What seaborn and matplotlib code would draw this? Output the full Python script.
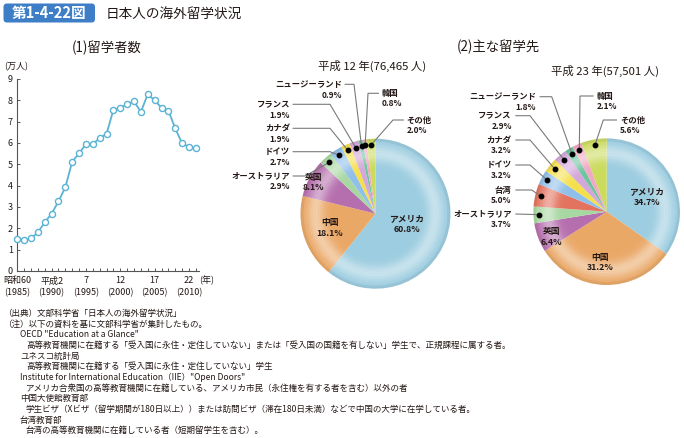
import numpy as np
import matplotlib
matplotlib.use('Agg')
import matplotlib.pyplot as plt
import seaborn as sns
import pandas as pd
from matplotlib.patches import FancyBboxPatch

sns.set_style('ticks')
plt.rcParams['font.family'] = ['Noto Sans CJK JP', 'DejaVu Sans']

# ---------------- data ----------------
years = [1985, 1986, 1987, 1988, 1989, 1990, 1991, 1992, 1993, 1994, 1995, 1996, 1997, 1998,
         1999, 2000, 2001, 2002, 2003, 2004, 2005, 2006, 2007, 2008, 2009, 2010, 2011]
students = [1.52, 1.43, 1.53, 1.81, 2.28, 2.69, 3.26, 3.93, 5.13, 5.51, 5.95, 5.95, 6.23, 6.43,
            7.56, 7.65, 7.82, 7.95, 7.46, 8.29, 8.00, 7.65, 7.52, 6.68, 5.99, 5.81, 5.75]
xtick_years = [1985, 1990, 1995, 2000, 2005, 2010]
xtick_era_labels = ['昭和60', '平成2', '7', '12', '17', '22']
xtick_ad_labels = ['(1985)', '(1990)', '(1995)', '(2000)', '(2005)', '(2010)']
yticks = [0, 1, 2, 3, 4, 5, 6, 7, 8, 9]

pie1_labels = ['アメリカ', '中国', '英国', 'オーストラリア', 'ドイツ', 'カナダ', 'フランス',
               'ニュージーランド', '韓国', 'その他']
pie1_values = [60.8, 18.1, 8.1, 2.9, 2.7, 1.9, 1.9, 0.9, 0.8, 2.0]
pie2_labels = ['アメリカ', '中国', '英国', 'オーストラリア', '台湾', 'ドイツ', 'カナダ', 'フランス',
               'ニュージーランド', '韓国', 'その他']
pie2_values = [34.7, 31.2, 6.4, 3.7, 5.0, 3.2, 3.2, 2.9, 1.8, 2.1, 5.6]
pie1_title = '平成 12 年(76,465 人)'
pie2_title = '平成 23 年(57,501 人)'

country_colors = {
    'アメリカ': '#9ccde0', '中国': '#eaa867', '英国': '#b66fae', 'オーストラリア': '#a8d8a2',
    '台湾': '#e3735f', 'ドイツ': '#90bfea', 'カナダ': '#f5e04c', 'フランス': '#d4a7da',
    'ニュージーランド': '#6cc59f', '韓国': '#f1a8c2', 'その他': '#cbdb5e',
}

notes = [
    (0, '（出典）文部科学省「日本人の海外留学状況」'),
    (0, '（注）以下の資料を基に文部科学省が集計したもの。'),
    (1, 'OECD "Education at a Glance"'),
    (2, '高等教育機関に在籍する「受入国に永住・定住していない」または「受入国の国籍を有しない」学生で、正規課程に属する者。'),
    (1, 'ユネスコ統計局'),
    (2, '高等教育機関に在籍する「受入国に永住・定住していない」学生'),
    (1, 'Institute for International Education（IIE）"Open Doors"'),
    (2, 'アメリカ合衆国の高等教育機関に在籍している、アメリカ市民（永住権を有する者を含む）以外の者'),
    (1, '中国大使館教育部'),
    (2, '学生ビザ（Xビザ（留学期間が180日以上））または訪問ビザ（滞在180日未満）などで中国の大学に在学している者。'),
    (1, '台湾教育部'),
    (2, '台湾の高等教育機関に在籍している者（短期留学生を含む）。'),
]

# ---------------- figure ----------------
W, H = 684, 438
fig = plt.figure(figsize=(W / 100, H / 100), dpi=100)
TXT = '#231815'
LINE = '#5bb3d4'


def fx(x):
    return x / W


def fy(y):
    return 1 - y / H


# ---- line chart ----
axl = fig.add_axes([fx(17), fy(271), fx(199 - 17), (271 - 79) / H])
df = pd.DataFrame({'year': years, 'students': students})
sns.lineplot(data=df, x='year', y='students', ax=axl, color=LINE, linewidth=1.3,
             marker='o', markersize=4.4, markerfacecolor='white', markeredgecolor=LINE,
             markeredgewidth=1.0, clip_on=False, zorder=5)
XL = (1984.96, 2011.46)
axl.set_xlim(*XL)
axl.set_ylim(0, 9)
axl.set_xlabel('')
axl.set_ylabel('')
axl.set_yticks(yticks)
axl.set_yticklabels([str(v) for v in yticks])
axl.set_xticks(xtick_years)
axl.set_xticklabels(xtick_era_labels)
axl.set_xticks(years, minor=True)
for s in ['top', 'right']:
    axl.spines[s].set_visible(False)
for s in ['left', 'bottom']:
    axl.spines[s].set_color('#555555')
    axl.spines[s].set_linewidth(0.8)
axl.tick_params(axis='both', which='both', direction='in', length=2.2, width=0.7,
                color='#555555', labelsize=6.5, labelcolor=TXT)
axl.tick_params(axis='y', pad=3)
axl.tick_params(axis='x', pad=3.8)
axl.set_facecolor('none')

# second row of x labels (Western years)
ax2 = axl.twiny()
ax2.set_xlim(*XL)
ax2.set_xticks(xtick_years)
ax2.set_xticklabels(xtick_ad_labels)
ax2.xaxis.set_ticks_position('bottom')
ax2.xaxis.set_label_position('bottom')
ax2.tick_params(axis='x', length=0, pad=12.0, labelsize=6.5, labelcolor=TXT)
for s in ax2.spines.values():
    s.set_visible(False)
ax2.set_facecolor('none')


# ---- pies ----
def draw_pie(cx, cy, R, labels, values):
    ax = fig.add_axes([fx(cx - 1.25 * R), fy(cy + 1.25 * R), 2.5 * R / W, 2.5 * R / H])
    cols = [country_colors[l] for l in labels]
    ax.pie(values, colors=cols, startangle=90, counterclock=False, radius=1,
           wedgeprops=dict(linewidth=0))
    # soft radial shading
    step = 0.02
    for r_out in np.arange(1.0, 0.3, -step):
        rm = r_out - step / 2
        a = 0.45 * np.exp(-((rm - 0.80) / 0.11) ** 2)
        if a > 0.01:
            ax.pie(values, colors=['white'] * len(values), startangle=90, counterclock=False,
                   radius=r_out, wedgeprops=dict(width=step, linewidth=0, alpha=a))
    ax.pie(values, colors=['black'] * len(values), startangle=90, counterclock=False,
           radius=1.0, wedgeprops=dict(width=0.04, linewidth=0, alpha=0.05))
    ax.set_xlim(-1.25, 1.25)
    ax.set_ylim(-1.25, 1.25)
    ax.axis('off')
    return ax


P1 = (375.5, 213.7, 75.0)
P2 = (606.7, 211.7, 73.3)
draw_pie(*P1, pie1_labels, pie1_values)
draw_pie(*P2, pie2_labels, pie2_values)

# ---- overlay for text / leaders ----
ov = fig.add_axes([0, 0, 1, 1])
ov.set_xlim(0, W)
ov.set_ylim(H, 0)
ov.axis('off')
ov.set_facecolor('none')

# title
ov.add_patch(FancyBboxPatch((3.5, 3.5), 91.5, 19, boxstyle='round,pad=0,rounding_size=3.5',
                            facecolor='#3d7ec6', edgecolor='none'))
ov.text(49, 13.2, '第1-4-22図', color='white', fontsize=10.5, fontweight='bold',
        ha='center', va='center')
ov.text(106, 13.5, '日本人の海外留学状況', color=TXT, fontsize=9.8, ha='left', va='center')
ov.text(72, 48, '(1)留学者数', color=TXT, fontsize=9.6, ha='left', va='center')
ov.text(457, 47, '(2)主な留学先', color=TXT, fontsize=9.6, ha='left', va='center')

ov.text(4, 67, '(万人)', color=TXT, fontsize=6.5, ha='left', va='center')
ov.text(199, 280.5, '(年)', color=TXT, fontsize=6.5, ha='left', va='center')

ov.text(372, 66, pie1_title, color=TXT, fontsize=8.2, ha='center', va='center')
ov.text(605, 71, pie2_title, color=TXT, fontsize=8.2, ha='center', va='center')

FS = 6.0
LH = 10.7
FW = 'bold'


def dot_px(values, i, cx, cy, R, rf=0.92):
    tot = sum(values)
    cum = sum(values[:i]) + values[i] / 2
    th = np.deg2rad(90 - 360 * cum / tot)
    return cx + R * rf * np.cos(th), cy - R * rf * np.sin(th)


# (text_x, first_line_y, ha, line_start_x, elbow_x)
layout1 = {
    'ニュージーランド': (342, 84.3, 'right', 345, 354),
    'フランス': (290, 104.3, 'right', 293, 330),
    'カナダ': (290, 128.3, 'right', 293, 330),
    'ドイツ': (290, 151.7, 'right', 293, 330),
    'オーストラリア': (290, 176.0, 'right', 293, 305),
    '韓国': (381.7, 93.3, 'left', 378.5, 368),
    'その他': (406.7, 120.0, 'left', 403.5, 393),
}
inner1 = {'アメリカ': (406.7, 218.3), '中国': (330, 222.7), '英国': (313.3, 177.3)}

layout2 = {
    'ニュージーランド': (536, 96.7, 'right', 540, 551.7),
    'フランス': (511.7, 115.7, 'right', 515.7, 530),
    'カナダ': (511.7, 140.0, 'right', 515.7, 530),
    'ドイツ': (511.7, 165.0, 'right', 515.7, 530),
    '台湾': (511.7, 190.0, 'right', 515.7, 531.7),
    'オーストラリア': (511.7, 214.0, 'right', 515.7, 515.7),
    '韓国': (596.7, 96.0, 'left', 593.3, 580),
    'その他': (620, 120.0, 'left', 616.7, 603.3),
}
inner2 = {'アメリカ': (646.7, 191.7), '中国': (600, 257.3), '英国': (551.7, 231.7)}


def annotate(P, labels, values, layout, inner):
    cx, cy, R = P
    for i, (lab, v) in enumerate(zip(labels, values)):
        pct = f'{v:.1f}%'
        if lab in inner:
            x, y = inner[lab]
            ov.text(x, y, lab, fontsize=FS + 0.3, fontweight=FW, color=TXT, ha='center', va='center')
            ov.text(x, y + LH, pct, fontsize=FS + 0.3, fontweight=FW, color=TXT, ha='center', va='center')
        elif lab in layout:
            tx, ty, ha, sx, ex = layout[lab]
            ov.text(tx, ty, lab, fontsize=FS, fontweight=FW, color=TXT, ha=ha, va='center')
            ov.text(tx, ty + LH, pct, fontsize=FS, fontweight=FW, color=TXT, ha=ha, va='center')
            dx, dy = dot_px(values, i, cx, cy, R)
            ov.plot([sx, ex, dx], [ty, ty, dy], color='#7a7a7a', lw=0.8, solid_joinstyle='miter')
            ov.plot([dx], [dy], 'o', color='black', markersize=3.2)


annotate(P1, pie1_labels, pie1_values, layout1, inner1)
annotate(P2, pie2_labels, pie2_values, layout2, inner2)

# footnotes
indent = {0: 3, 1: 20, 2: 26}
for k, (lvl, t) in enumerate(notes):
    ov.text(indent[lvl], 313.5 + k * 10.65, t, fontsize=6.15, color=TXT, ha='left', va='center')

fig.savefig('out.png', dpi=100, facecolor='white')
